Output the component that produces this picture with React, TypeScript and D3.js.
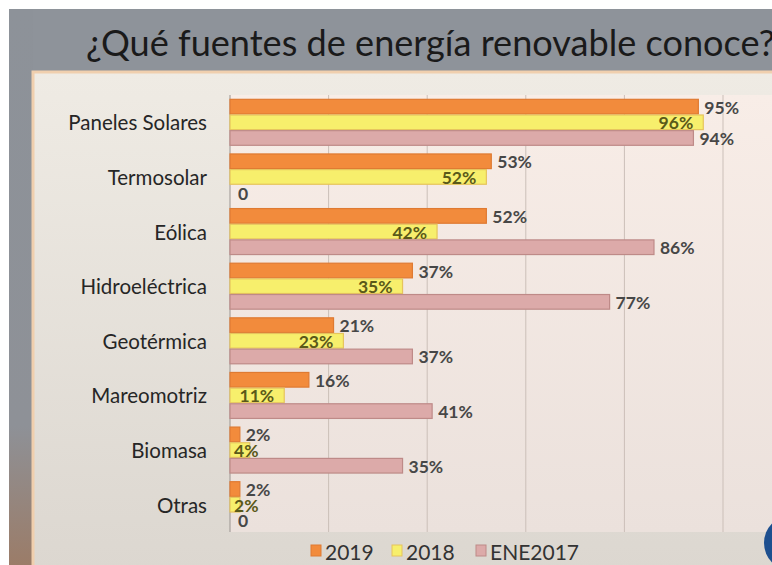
import React from "react";
import * as d3 from "d3";

const categories = ["Paneles Solares", "Termosolar", "Eólica", "Hidroeléctrica", "Geotérmica", "Mareomotriz", "Biomasa", "Otras"];
const seriesNames = ["2019", "2018", "ENE2017"];
const values2019 = [95, 53, 52, 37, 21, 16, 2, 2];
const values2018 = [96, 52, 42, 35, 23, 11, 4, 2];
const valuesEne2017 = [94, 0, 86, 77, 37, 41, 35, 0];
const gridTicks = [20, 40, 60, 80, 100];
const titleText = "¿Qué fuentes de energía renovable conoce?";

const W = 772;
const H = 565;
const FONT = "Lato, 'Open Sans', sans-serif";

const fills = ["#f28b3c", "#f7ef6c", "#dcaaa9"];
const strokes = ["#df7a32", "#e6c45c", "#be8a88"];

let ctx: CanvasRenderingContext2D | null = null;
function measure(text: string, font: string): number {
  if (!ctx) {
    const c = document.createElement("canvas");
    ctx = c.getContext("2d");
  }
  if (!ctx) return text.length * 9;
  ctx.font = font;
  return ctx.measureText(text).width;
}

export default function App() {
  const x0 = 230;
  const x = d3.scaleLinear().domain([0, 100]).range([x0, 723]);
  const y = d3.scaleBand<string>().domain(categories).range([95, 532]).paddingInner(0.14).paddingOuter(0.07);
  const ys = d3.scaleBand<string>().domain(seriesNames).range([0, y.bandwidth()]).padding(0);
  const data = [values2019, values2018, valuesEne2017];

  const labelSize = 17.5;
  const labelFont = `bold ${labelSize}px Lato`;
  const titleTarget = 689;
  const titleMeasured = measure(titleText, `40px Lato`);
  const titleSize = titleMeasured > 0 ? (40 * titleTarget) / titleMeasured : 40;

  const legendItems = [
    { name: seriesNames[0], x: 311 },
    { name: seriesNames[1], x: 392 },
    { name: seriesNames[2], x: 476 },
  ];

  return (
    <svg width={W} height={H} style={{ position: "absolute", left: 0, top: 0 }} fontFamily={FONT}>
      <defs>
        <linearGradient id="leftStrip" x1="0" y1="0" x2="0" y2="1">
          <stop offset="0" stopColor="#8d9299" />
          <stop offset="0.75" stopColor="#8e9197" />
          <stop offset="1" stopColor="#9b7c68" />
        </linearGradient>
        <linearGradient id="boxFill" x1="0" y1="0" x2="0" y2="1">
          <stop offset="0" stopColor="#efebe4" />
          <stop offset="1" stopColor="#dcd7d0" />
        </linearGradient>
        <linearGradient id="plotFill" x1="0" y1="0" x2="0" y2="1">
          <stop offset="0" stopColor="#f8ede7" />
          <stop offset="1" stopColor="#ebe1dc" />
        </linearGradient>
      </defs>
      <rect x={0} y={0} width={W} height={H} fill="#ffffff" />
      <rect x={9} y={9} width={W - 9} height={H - 9} fill="#8e939a" />
      <rect x={9} y={9} width={24} height={H - 9} fill="url(#leftStrip)" />
      <rect x={33} y={72} width={W - 33 + 5} height={H - 72 + 5} fill="url(#boxFill)" stroke="#f0cfae" strokeWidth={3} />
      <rect x={x0} y={95} width={W - x0} height={437} fill="url(#plotFill)" />

      <text x={86} y={56} fontSize={titleSize} fill="#1a1a1a" fontFamily="Lato">
        {titleText}
      </text>

      {gridTicks.map((t) => (
        <line key={t} x1={x(t)} x2={x(t)} y1={95} y2={532} stroke="#cbbfb8" strokeWidth={1} />
      ))}
      <line x1={x0} x2={x0} y1={95} y2={532} stroke="#9a9490" strokeWidth={1} />

      {categories.map((c) => (
        <text key={c} x={207} y={(y(c) ?? 0) + y.bandwidth() / 2} textAnchor="end" dominantBaseline="central" fontSize={20.5} fill="#262626">
          {c}
        </text>
      ))}

      {categories.map((c, i) =>
        seriesNames.map((s, k) => {
          const v = data[k][i];
          const by = (y(c) ?? 0) + (ys(s) ?? 0);
          const bh = ys.bandwidth();
          const bx = x(v);
          const cy = by + bh / 2 + 0.5;
          const label = v === 0 ? "0" : `${v}%`;
          let lx = bx + 6;
          let anchor: "start" | "end" = "start";
          let col = "#474747";
          if (k === 1) {
            const w = measure(label, labelFont);
            col = "#5a5919";
            if (bx - 10 - w < x0 + 4) {
              lx = x0 + 4;
              anchor = "start";
            } else {
              lx = bx - 10;
              anchor = "end";
            }
          } else if (v === 0) {
            lx = x0 + 8;
          }
          return (
            <g key={c + s}>
              {v > 0 && (
                <rect x={x0} y={by + 0.5} width={bx - x0} height={bh - 1} fill={fills[k]} stroke={strokes[k]} strokeWidth={1.2} />
              )}
              <text x={lx} y={cy} textAnchor={anchor} dominantBaseline="central" fontSize={labelSize} fontWeight="bold" fill={col}>
                {label}
              </text>
            </g>
          );
        })
      )}

      {legendItems.map((it, k) => (
        <g key={it.name}>
          <rect x={it.x} y={545} width={10} height={11} fill={fills[k]} stroke={strokes[k]} strokeWidth={1} />
          <text x={it.x + 14} y={551} dominantBaseline="central" fontSize={21} fill="#333333">
            {it.name}
          </text>
        </g>
      ))}

      <circle cx={792} cy={543} r={28} fill="#1d4f8f" />
    </svg>
  );
}
